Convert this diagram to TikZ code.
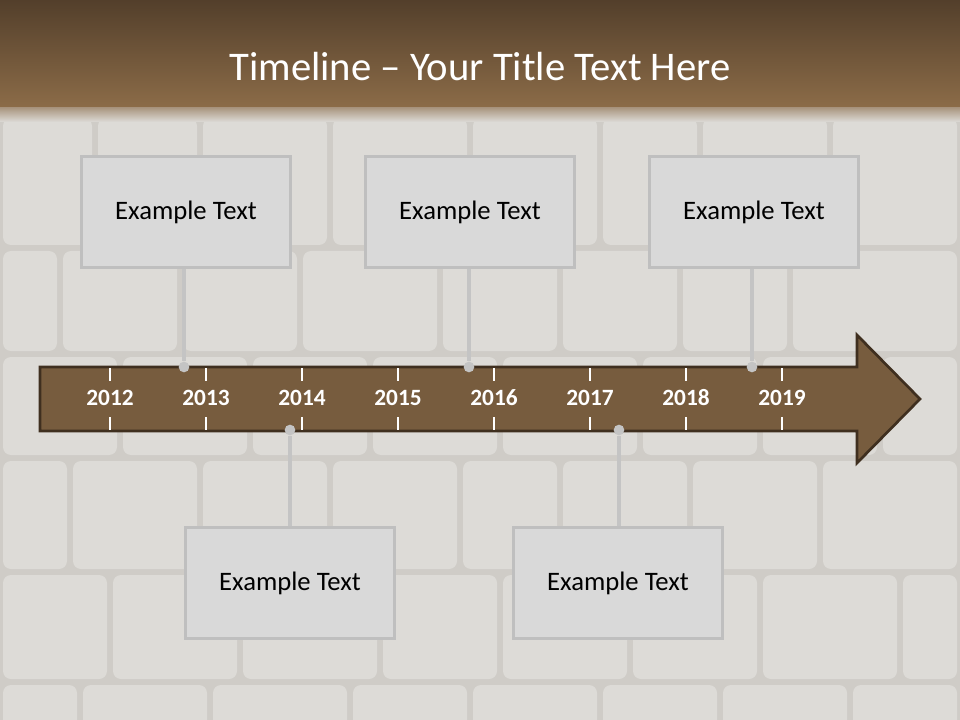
\documentclass[tikz,border=0pt]{standalone}
\usepackage{fontspec}
\setmainfont{Carlito}
\definecolor{wallbg}{HTML}{CFCCC7}
\definecolor{stonec}{HTML}{DDDBD7}
\definecolor{hdtop}{HTML}{533F2B}
\definecolor{hdbot}{HTML}{8C6C48}
\definecolor{arrowfill}{HTML}{775C3E}
\definecolor{arrowline}{HTML}{3F2F1F}
\definecolor{boxfill}{HTML}{D9D9D9}
\definecolor{boxline}{HTML}{BFBFBF}
\definecolor{connc}{HTML}{C4C4C4}
\tikzset{
  stone/.style={fill=stonec, draw=none, rounded corners=6pt},
  eventbox/.style={draw=boxline, line width=2.2pt, fill=boxfill, minimum width=157pt, minimum height=83pt, inner sep=0pt, font=\fontsize{20}{24}\selectfont, text=black},
  conn/.style={draw=connc, line width=3pt},
  dot/.style={circle, fill=connc, draw=none, minimum size=8pt, inner sep=0pt},
  year/.style={text=white, font=\bfseries\fontsize{17.5}{20}\selectfont, inner sep=0pt, anchor=base},
  tick/.style={draw=white, line width=0.8pt},
}
\begin{document}
\begin{tikzpicture}[x=0.75pt,y=-0.75pt]
\useasboundingbox (0,0) rectangle (960,720);
% wall
\fill[wallbg] (0,0) rectangle (960,720);
\foreach \a/\b in {0/95,95/200,200/330,330/470,470/600,600/700,700/830,830/960}
  \fill[stone] (\a+3,118) rectangle (\b-3,245);
\foreach \a/\b in {0/60,60/180,180/300,300/440,440/560,560/680,680/790,790/960}
  \fill[stone] (\a+3,251) rectangle (\b-3,351);
\foreach \a/\b in {0/120,120/250,250/370,370/500,500/640,640/760,760/880,880/960}
  \fill[stone] (\a+3,357) rectangle (\b-3,455);
\foreach \a/\b in {0/70,70/200,200/330,330/460,460/560,560/690,690/820,820/960}
  \fill[stone] (\a+3,461) rectangle (\b-3,569);
\foreach \a/\b in {0/110,110/240,240/380,380/500,500/630,630/760,760/900,900/960}
  \fill[stone] (\a+3,575) rectangle (\b-3,679);
\foreach \a/\b in {0/80,80/210,210/350,350/470,470/600,600/720,720/850,850/960}
  \fill[stone] (\a+3,685) rectangle (\b-3,730);
% header
\shade[top color=hdtop, bottom color=hdbot] (0,0) rectangle (960,108);
\shade[top color=hdbot!55!wallbg, bottom color=stonec] (0,108) rectangle (960,122);
\node[text=white, font=\fontsize{30.5}{34}\selectfont, inner sep=0pt] (title) at (480,67) {Timeline – Your Title Text Here};
% arrow
\draw[fill=arrowfill, draw=arrowline, line width=2pt, line join=miter]
  (40,367) -- (857,367) -- (857,335) -- (920,399) -- (857,463) -- (857,431) -- (40,431) -- cycle;
\foreach \x/\y in {110/2012,206/2013,302/2014,398/2015,494/2016,590/2017,686/2018,782/2019}{
  \draw[tick] (\x,368) -- (\x,381);
  \draw[tick] (\x,417) -- (\x,430);
  \node[year] (y\y) at (\x,405) {\y};
}
% boxes
\node[eventbox] (b1) at (186,212) {Example Text};
\node[eventbox] (b2) at (470,212) {Example Text};
\node[eventbox] (b3) at (754,212) {Example Text};
\node[eventbox] (b4) at (290,583) {Example Text};
\node[eventbox] (b5) at (618,583) {Example Text};
% dots
\node[dot] (d1) at (184,367) {};
\node[dot] (d2) at (469,367) {};
\node[dot] (d3) at (752,367) {};
\node[dot] (d4) at (290,430) {};
\node[dot] (d5) at (619,430) {};
% connectors
\draw[conn] (b1.south -| d1) -- (d1);
\draw[conn] (b2.south -| d2) -- (d2);
\draw[conn] (b3.south -| d3) -- (d3);
\draw[conn] (d4) -- (b4.north -| d4);
\draw[conn] (d5) -- (b5.north -| d5);
\end{tikzpicture}
\end{document}
